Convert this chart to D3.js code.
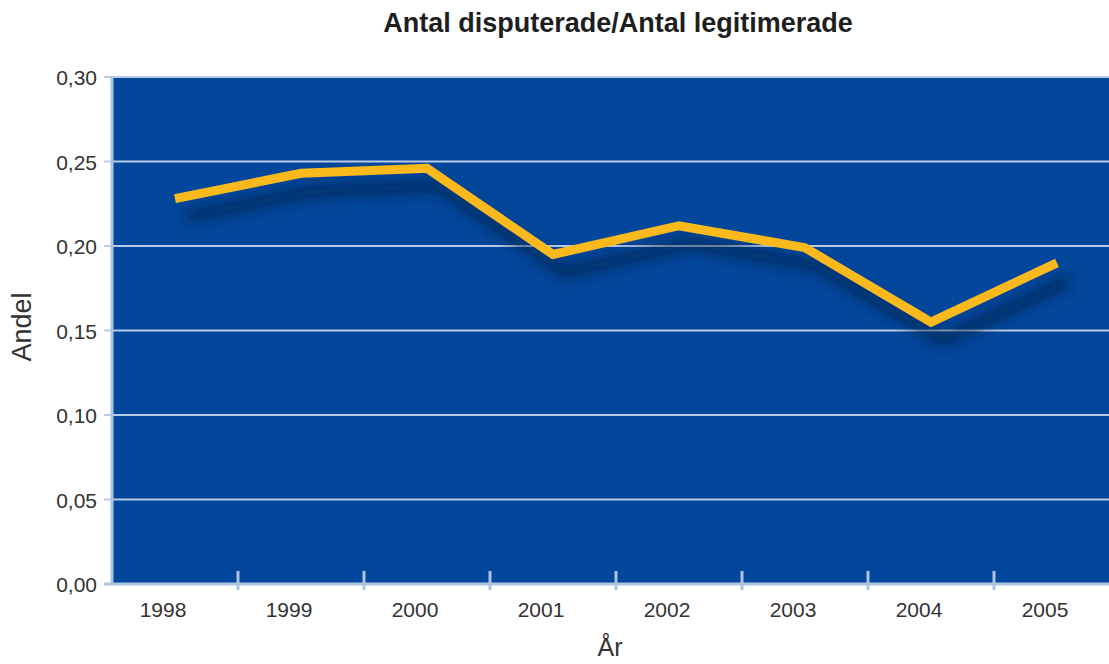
<!DOCTYPE html>
<html>
<head>
<meta charset="utf-8">
<script src="https://cdn.jsdelivr.net/npm/d3@7"></script>
<style>
  body { margin: 0; background: #fff; }
  text { font-family: "Liberation Sans", Arial, sans-serif; }
</style>
</head>
<body>
<script>
// data
var years = ["1998", "1999", "2000", "2001", "2002", "2003", "2004", "2005"];
var andel = [0.228, 0.243, 0.246, 0.195, 0.212, 0.199, 0.155, 0.190];
var yTicks = [0, 0.05, 0.10, 0.15, 0.20, 0.25, 0.30];

var totalWidth = 1109, totalHeight = 664;
var margin = { left: 112, top: 77, right: -11, bottom: 80 };
var graphWidth = totalWidth - margin.left - margin.right;
var graphHeight = totalHeight - margin.top - margin.bottom;

var svg = d3.select('body')
  .append('svg')
  .attr('width', totalWidth)
  .attr('height', totalHeight);

// shadow for the line
var defs = svg.append('defs');
var shadow = defs.append('filter')
  .attr('id', 'shadow')
  .attr('x', '-10%').attr('y', '-50%')
  .attr('width', '130%').attr('height', '250%');
shadow.append('feGaussianBlur').attr('in', 'SourceAlpha').attr('stdDeviation', 7).attr('result', 'blur');
shadow.append('feOffset').attr('in', 'blur').attr('dx', 12).attr('dy', 18).attr('result', 'off');
shadow.append('feFlood').attr('flood-color', '#0a1f45').attr('flood-opacity', 0.9);
shadow.append('feComposite').attr('in2', 'off').attr('operator', 'in').attr('result', 'sh');
var merge = shadow.append('feMerge');
merge.append('feMergeNode').attr('in', 'sh');
merge.append('feMergeNode').attr('in', 'SourceGraphic');

var xScale = d3.scaleBand()
  .domain(years)
  .range([0, graphWidth])
  .padding(0);

var yScale = d3.scaleLinear()
  .domain([0, 0.30])
  .range([graphHeight, 0]);

var g = svg.append('g')
  .attr('transform', 'translate(' + margin.left + ',' + margin.top + ')');

// plot background
g.append('rect')
  .attr('x', 0).attr('y', 0)
  .attr('width', graphWidth).attr('height', graphHeight)
  .attr('fill', '#02479b');

// gridlines
g.selectAll('.grid')
  .data(yTicks.filter(function(d) { return d > 0; }))
  .enter()
  .append('line')
  .attr('class', 'grid')
  .attr('x1', -8).attr('x2', graphWidth)
  .attr('y1', function(d) { return yScale(d); })
  .attr('y2', function(d) { return yScale(d); })
  .attr('stroke', '#b9cbe6')
  .attr('stroke-width', 2);

// y axis line
g.append('line')
  .attr('x1', 0).attr('x2', 0)
  .attr('y1', -1).attr('y2', graphHeight)
  .attr('stroke', '#adc3e2')
  .attr('stroke-width', 3);

// x axis line
g.append('line')
  .attr('x1', -8).attr('x2', graphWidth)
  .attr('y1', graphHeight).attr('y2', graphHeight)
  .attr('stroke', '#adc3e2')
  .attr('stroke-width', 3);

// x ticks between categories
g.selectAll('.xtick')
  .data(years.slice(1))
  .enter()
  .append('line')
  .attr('class', 'xtick')
  .attr('x1', function(d) { return xScale(d); })
  .attr('x2', function(d) { return xScale(d); })
  .attr('y1', graphHeight - 13)
  .attr('y2', graphHeight + 6)
  .attr('stroke', '#adc3e2')
  .attr('stroke-width', 3);

// y labels
g.selectAll('.ylabel')
  .data(yTicks)
  .enter()
  .append('text')
  .attr('x', -15)
  .attr('y', function(d) { return yScale(d) + 8; })
  .attr('text-anchor', 'end')
  .attr('font-size', 21)
  .attr('fill', '#333')
  .text(function(d) { return d3.format('.2f')(d).replace('.', ','); });

// x labels
g.selectAll('.xlabel')
  .data(years)
  .enter()
  .append('text')
  .attr('x', function(d) { return xScale(d) + xScale.bandwidth() / 2 - 12; })
  .attr('y', graphHeight + 33)
  .attr('text-anchor', 'middle')
  .attr('font-size', 21)
  .attr('fill', '#333')
  .text(function(d) { return d; });

// line
var line = d3.line()
  .x(function(d, i) { return xScale(years[i]) + xScale.bandwidth() / 2; })
  .y(function(d) { return yScale(d); });

g.append('path')
  .datum(andel)
  .attr('d', line)
  .attr('fill', 'none')
  .attr('stroke', '#fbb91d')
  .attr('stroke-width', 9)
  .attr('stroke-linejoin', 'miter')
  .attr('filter', 'url(#shadow)');

// title and axis titles
svg.append('text')
  .attr('x', 618).attr('y', 32)
  .attr('text-anchor', 'middle')
  .attr('font-size', 27)
  .attr('font-weight', 'bold')
  .attr('fill', '#1e1e1e')
  .text('Antal disputerade/Antal legitimerade');

svg.append('text')
  .attr('transform', 'translate(31,' + 327 + ') rotate(-90)')
  .attr('text-anchor', 'middle')
  .attr('font-size', 27)
  .attr('fill', '#333')
  .text('Andel');

svg.append('text')
  .attr('x', 610).attr('y', 656)
  .attr('text-anchor', 'middle')
  .attr('font-size', 25)
  .attr('fill', '#333')
  .text('År');
</script>
</body>
</html>
